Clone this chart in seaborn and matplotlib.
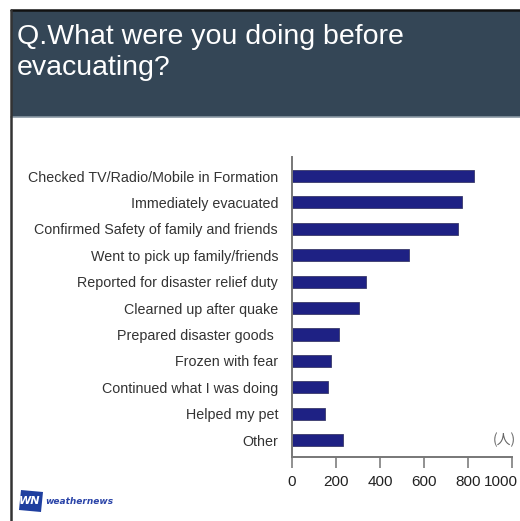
import matplotlib
matplotlib.use("Agg")
import matplotlib.pyplot as plt
from matplotlib.patches import Rectangle, Polygon
from matplotlib.lines import Line2D
import matplotlib.transforms as mtransforms
import seaborn as sns
import pandas as pd

# Survey answers and head counts
activities = [
    "Checked TV/Radio/Mobile in Formation",
    "Immediately evacuated",
    "Confirmed Safety of family and friends",
    "Went to pick up family/friends",
    "Reported for disaster relief duty",
    "Clearned up after quake",
    "Prepared disaster goods ",
    "Frozen with fear",
    "Continued what I was doing",
    "Helped my pet",
    "Other",
]
counts = [825, 772, 753, 533, 338, 303, 213, 175, 164, 152, 230]
x_ticks = [0, 200, 400, 600, 800, 1000]

title_lines = ["Q.What were you doing before", "evacuating?"]
unit = "(人)"

sns.set_theme(style="white")
plt.rcParams["font.family"] = ["DejaVu Sans", "Noto Sans CJK JP"]

W, H = 520, 521
fig = plt.figure(figsize=(W / 100, H / 100), dpi=100)
fig.patch.set_facecolor("white")


def fx(px):
    return px / W


def fy(py):
    return 1 - py / H


# Header band
fig.patches.append(Rectangle((fx(11), fy(117)), fx(520) - fx(11), fy(10) - fy(117),
                             transform=fig.transFigure, facecolor="#344656",
                             edgecolor="none", zorder=0))
fig.lines.append(Line2D([fx(11), 1], [fy(117.5), fy(117.5)], transform=fig.transFigure,
                        color="#8a98a4", lw=1.2))
# Outer frame lines (top and left)
fig.lines.append(Line2D([fx(11), 1], [fy(10), fy(10)], transform=fig.transFigure,
                        color="#111111", lw=1.8))
fig.lines.append(Line2D([fx(11), fx(11)], [fy(10), 0], transform=fig.transFigure,
                        color="#333333", lw=1.8))

for text, yc in zip(title_lines, [37, 68]):
    fig.text(fx(17), fy(yc), text, color="white", fontsize=20.5,
             family=["Liberation Sans", "DejaVu Sans"], va="center", ha="left")

# Bar chart
ax = fig.add_axes([fx(292), fy(457), fx(512) - fx(292), fy(157) - fy(457)])
df = pd.DataFrame({"activity": activities, "count": counts})
sns.barplot(data=df, x="count", y="activity", orient="h", color="#1e2184",
            width=0.46, edgecolor="#3a3a6a", linewidth=0.6, saturation=1, ax=ax)

ax.set_xlim(0, 1000)
ax.set_ylim(len(activities) - 1 + 0.64, -0.72)
ax.set_xticks(x_ticks)
ax.set_xticklabels([str(t) for t in x_ticks], family=["Liberation Sans", "DejaVu Sans"],
                   fontsize=11, color="#222222")
ax.set_yticklabels(activities, fontsize=10.3, color="#333333",
                   family=["Liberation Sans", "DejaVu Sans"])
ax.set_xlabel("")
ax.set_ylabel("")
for side in ("top", "right"):
    ax.spines[side].set_visible(False)
for side in ("left", "bottom"):
    ax.spines[side].set_color("#777777")
    ax.spines[side].set_linewidth(1.4)
ax.tick_params(axis="x", bottom=True, direction="out", length=8, width=1.3,
               color="#888888", pad=5)
ax.tick_params(axis="y", left=False, length=0, pad=10)
ax.set_facecolor("white")

# Keep the last tick label inside the figure edge
last = ax.get_xticklabels()[-1]
last.set_transform(last.get_transform() +
                   mtransforms.ScaledTranslation(-11 / 100, 0, fig.dpi_scale_trans))

fig.text(fx(516), fy(440), unit, fontsize=10, color="#666666", ha="right", va="center",
         family=["Noto Sans CJK JP", "DejaVu Sans"])

# Logo mark at bottom-left
fig.patches.append(Polygon([(fx(21), fy(490)), (fx(43), fy(492)), (fx(41), fy(512)), (fx(19), fy(510))],
                           closed=True, transform=fig.transFigure, facecolor="#1f3f9f",
                           edgecolor="none"))
fig.text(fx(30), fy(501), "WN", color="white", fontsize=8, fontweight="bold",
         style="italic", ha="center", va="center")
fig.text(fx(45), fy(501), "weathernews", color="#2a44a8", fontsize=6.5, fontweight="bold",
         style="italic", ha="left", va="center")

fig.savefig("out.png", dpi=100, facecolor="white")
